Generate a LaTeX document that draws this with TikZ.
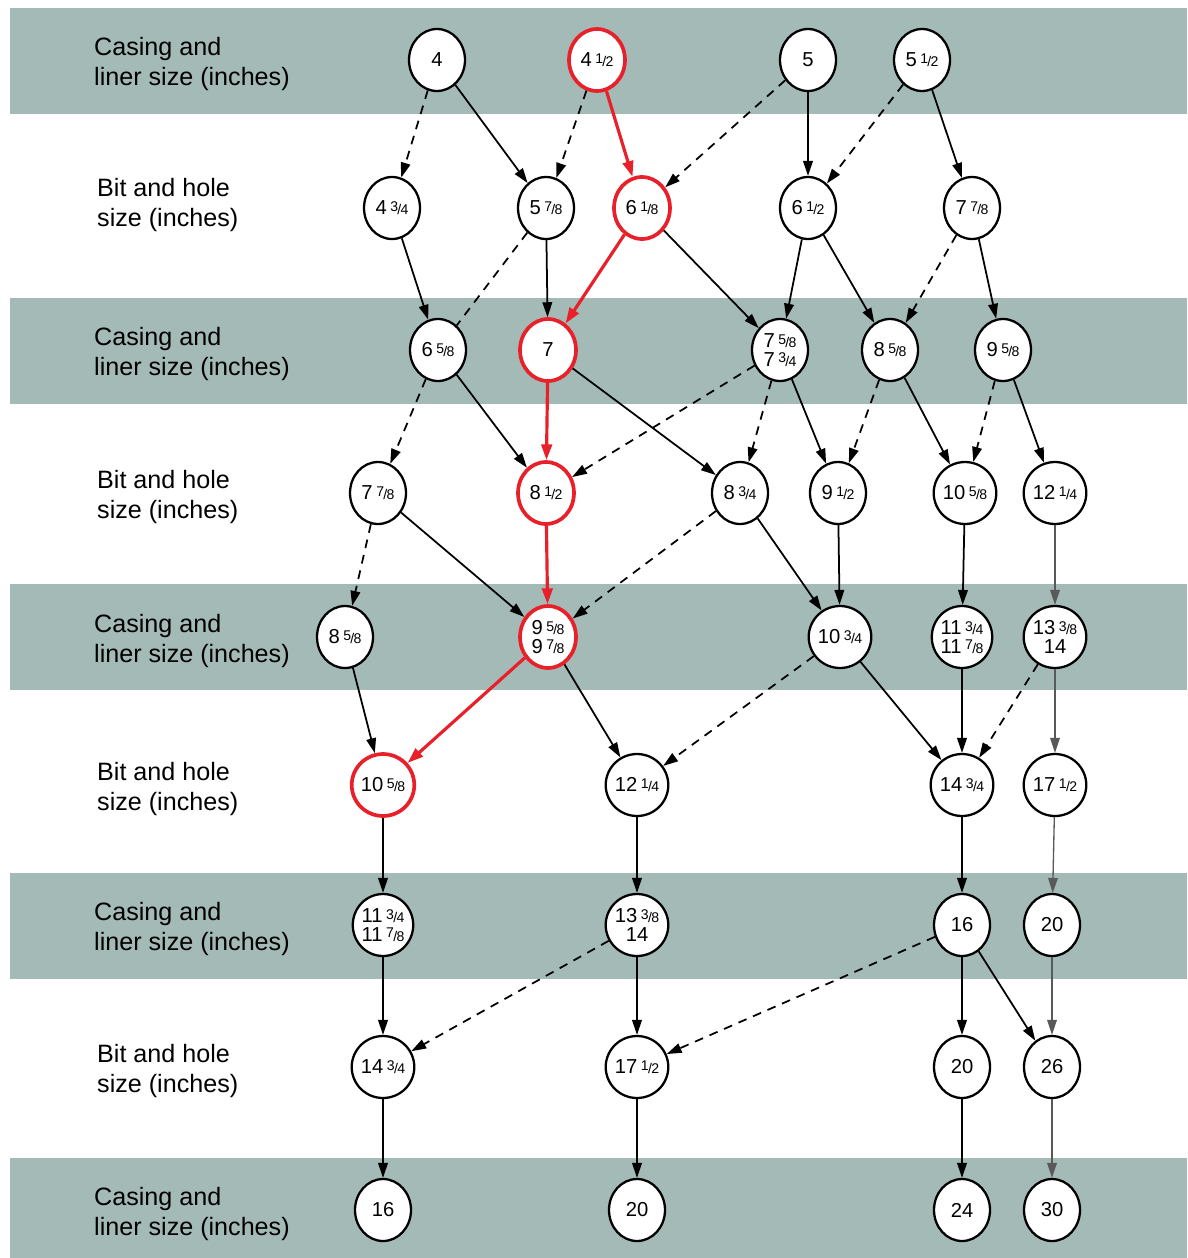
\documentclass[tikz,border=0pt]{standalone}
\usepackage{fontspec}
\setmainfont{Liberation Sans}
\usepackage{tikz}
\usetikzlibrary{arrows.meta, shapes.geometric, positioning}
\definecolor{bandgray}{HTML}{A4BAB7}
\definecolor{pathred}{HTML}{E8202A}
\newcommand{\fr}[2]{\hspace{0.18em}{\fontsize{8}{8}\selectfont\raisebox{0.45ex}{#1}\kern-0.05em/\kern-0.05em#2}}
\newcommand{\band}[1]{%
  \fill[bandgray] (10,#1) rectangle (1187,#1+106);
}
\tikzset{
  sizenode/.style={draw, ellipse, fill=white, line width=1.3pt,
    minimum width=1.12cm, minimum height=1.24cm, inner sep=0pt,
    align=center, font=\fontsize{11.5}{10.5}\selectfont},
  pick/.style={sizenode, draw=pathred, line width=2.1pt},
  fits/.style={-{Triangle[length=8.5pt,width=5.5pt]}, line width=1pt},
  faint/.style={fits, draw=black!65, line width=0.75pt},
  alt/.style={fits, dash pattern=on 5pt off 4pt},
  route/.style={-{Triangle[length=9pt,width=6pt]}, draw=pathred, fill=pathred, line width=1.8pt},
  rowlabel/.style={anchor=west, align=left, font=\fontsize{14.3}{17.6}\selectfont},
}

\begin{document}
\begin{tikzpicture}[x=0.02cm, y=-0.02cm]
    \useasboundingbox (0,0) rectangle (1187,1258);
    % bands
    \foreach \y in {8,298,584,873} {\band{\y}}
    \fill[bandgray] (10,1158) rectangle (1187,1258);

    % row labels
    \foreach \y in {64,354,641,929,1214}
      \node[rowlabel] at (88,\y) {Casing and\\liner size (inches)};
    \foreach \y in {205,497,789,1071}
      \node[rowlabel] at (91,\y) {Bit and hole\\size (inches)};

    % casing
    \node[sizenode] (A1) at (437,60) {4};
    \node[pick]     (A2) at (597,60) {4\fr{1}{2}};
    \node[sizenode] (A3) at (808,60) {5};
    \node[sizenode] (A4) at (922,60) {5\fr{1}{2}};

    % bit
    \node[sizenode] (B1) at (392,208) {4\fr{3}{4}};
    \node[sizenode] (B2) at (546,208) {5\fr{7}{8}};
    \node[pick]     (B3) at (642,208) {6\fr{1}{8}};
    \node[sizenode] (B4) at (808,208) {6\fr{1}{2}};
    \node[sizenode] (B5) at (972,208) {7\fr{7}{8}};

    % casing
    \node[sizenode] (C1) at (438,350) {6\fr{5}{8}};
    \node[pick]     (C2) at (548,350) {7};
    \node[sizenode] (C3) at (780,350) {7\fr{5}{8}\\7\fr{3}{4}};
    \node[sizenode] (C4) at (890,350) {8\fr{5}{8}};
    \node[sizenode] (C5) at (1003,350) {9\fr{5}{8}};

    % bit
    \node[sizenode] (D1) at (378,493) {7\fr{7}{8}};
    \node[pick]     (D2) at (546,493) {8\fr{1}{2}};
    \node[sizenode] (D3) at (740,493) {8\fr{3}{4}};
    \node[sizenode] (D4) at (838,493) {9\fr{1}{2}};
    \node[sizenode] (D5) at (965,493) {10\fr{5}{8}};
    \node[sizenode] (D6) at (1055,493) {12\fr{1}{4}};

    % casing
    \node[sizenode] (E1) at (345,637) {8\fr{5}{8}};
    \node[pick]     (E2) at (548,637) {9\fr{5}{8}\\9\fr{7}{8}};
    \node[sizenode] (E3) at (840,637) {10\fr{3}{4}};
    \node[sizenode] (E4) at (962,637) {11\fr{3}{4}\\11\fr{7}{8}};
    \node[sizenode] (E5) at (1055,637) {13\fr{3}{8}\\14};

    % bit
    \node[pick]     (F1) at (383,785) {10\fr{5}{8}};
    \node[sizenode] (F2) at (637,785) {12\fr{1}{4}};
    \node[sizenode] (F3) at (962,785) {14\fr{3}{4}};
    \node[sizenode] (F4) at (1055,785) {17\fr{1}{2}};

    % casing
    \node[sizenode] (G1) at (383,925) {11\fr{3}{4}\\11\fr{7}{8}};
    \node[sizenode] (G2) at (637,925) {13\fr{3}{8}\\14};
    \node[sizenode] (G3) at (962,925) {16};
    \node[sizenode] (G4) at (1052,925) {20};

    % bit
    \node[sizenode] (H1) at (383,1067) {14\fr{3}{4}};
    \node[sizenode] (H2) at (637,1067) {17\fr{1}{2}};
    \node[sizenode] (H3) at (962,1067) {20};
    \node[sizenode] (H4) at (1052,1067) {26};

    % casing
    \node[sizenode] (I1) at (383,1210) {16};
    \node[sizenode] (I2) at (637,1210) {20};
    \node[sizenode] (I3) at (962,1210) {24};
    \node[sizenode] (I4) at (1052,1210) {30};

    % standard clearance
    \foreach \a/\b in {A1/B2, A3/B4, A4/B5, B1/C1, B2/C2, B3/C3, B4/C3, B4/C4,
        B5/C5, C1/D2, C2/D3, C3/D4, C4/D5, C5/D6, D1/E2, D3/E3, D4/E3, D5/E4,
        E1/F1, E2/F2, E3/F3, E4/F3, F1/G1, F2/G2, F3/G3, G1/H1, G2/H2, G3/H3,
        G3/H4, H1/I1, H2/I2, H3/I3}
      \draw[fits] (\a) -- (\b);
    \foreach \a/\b in {D6/E5, E5/F4, F4/G4, G4/H4, H4/I4}
      \draw[faint] (\a) -- (\b);

    % tight clearance
    \foreach \a/\b in {A1/B1, A2/B2, A3/B3, A4/B4, B5/C4, C1/D1, C3/D2, C3/D3,
        C4/D4, C5/D5, D1/E1, D3/E2, E3/F2, E5/F3, G2/H1, G3/H2}
      \draw[alt] (\a) -- (\b);
    \draw[line width=1pt, dash pattern=on 5pt off 4pt] (B2) -- (C1);

    % chosen program
    \foreach \a/\b in {A2/B3, B3/C2, C2/D2, D2/E2, E2/F1}
      \draw[route] (\a) -- (\b);
\end{tikzpicture}
\end{document}
